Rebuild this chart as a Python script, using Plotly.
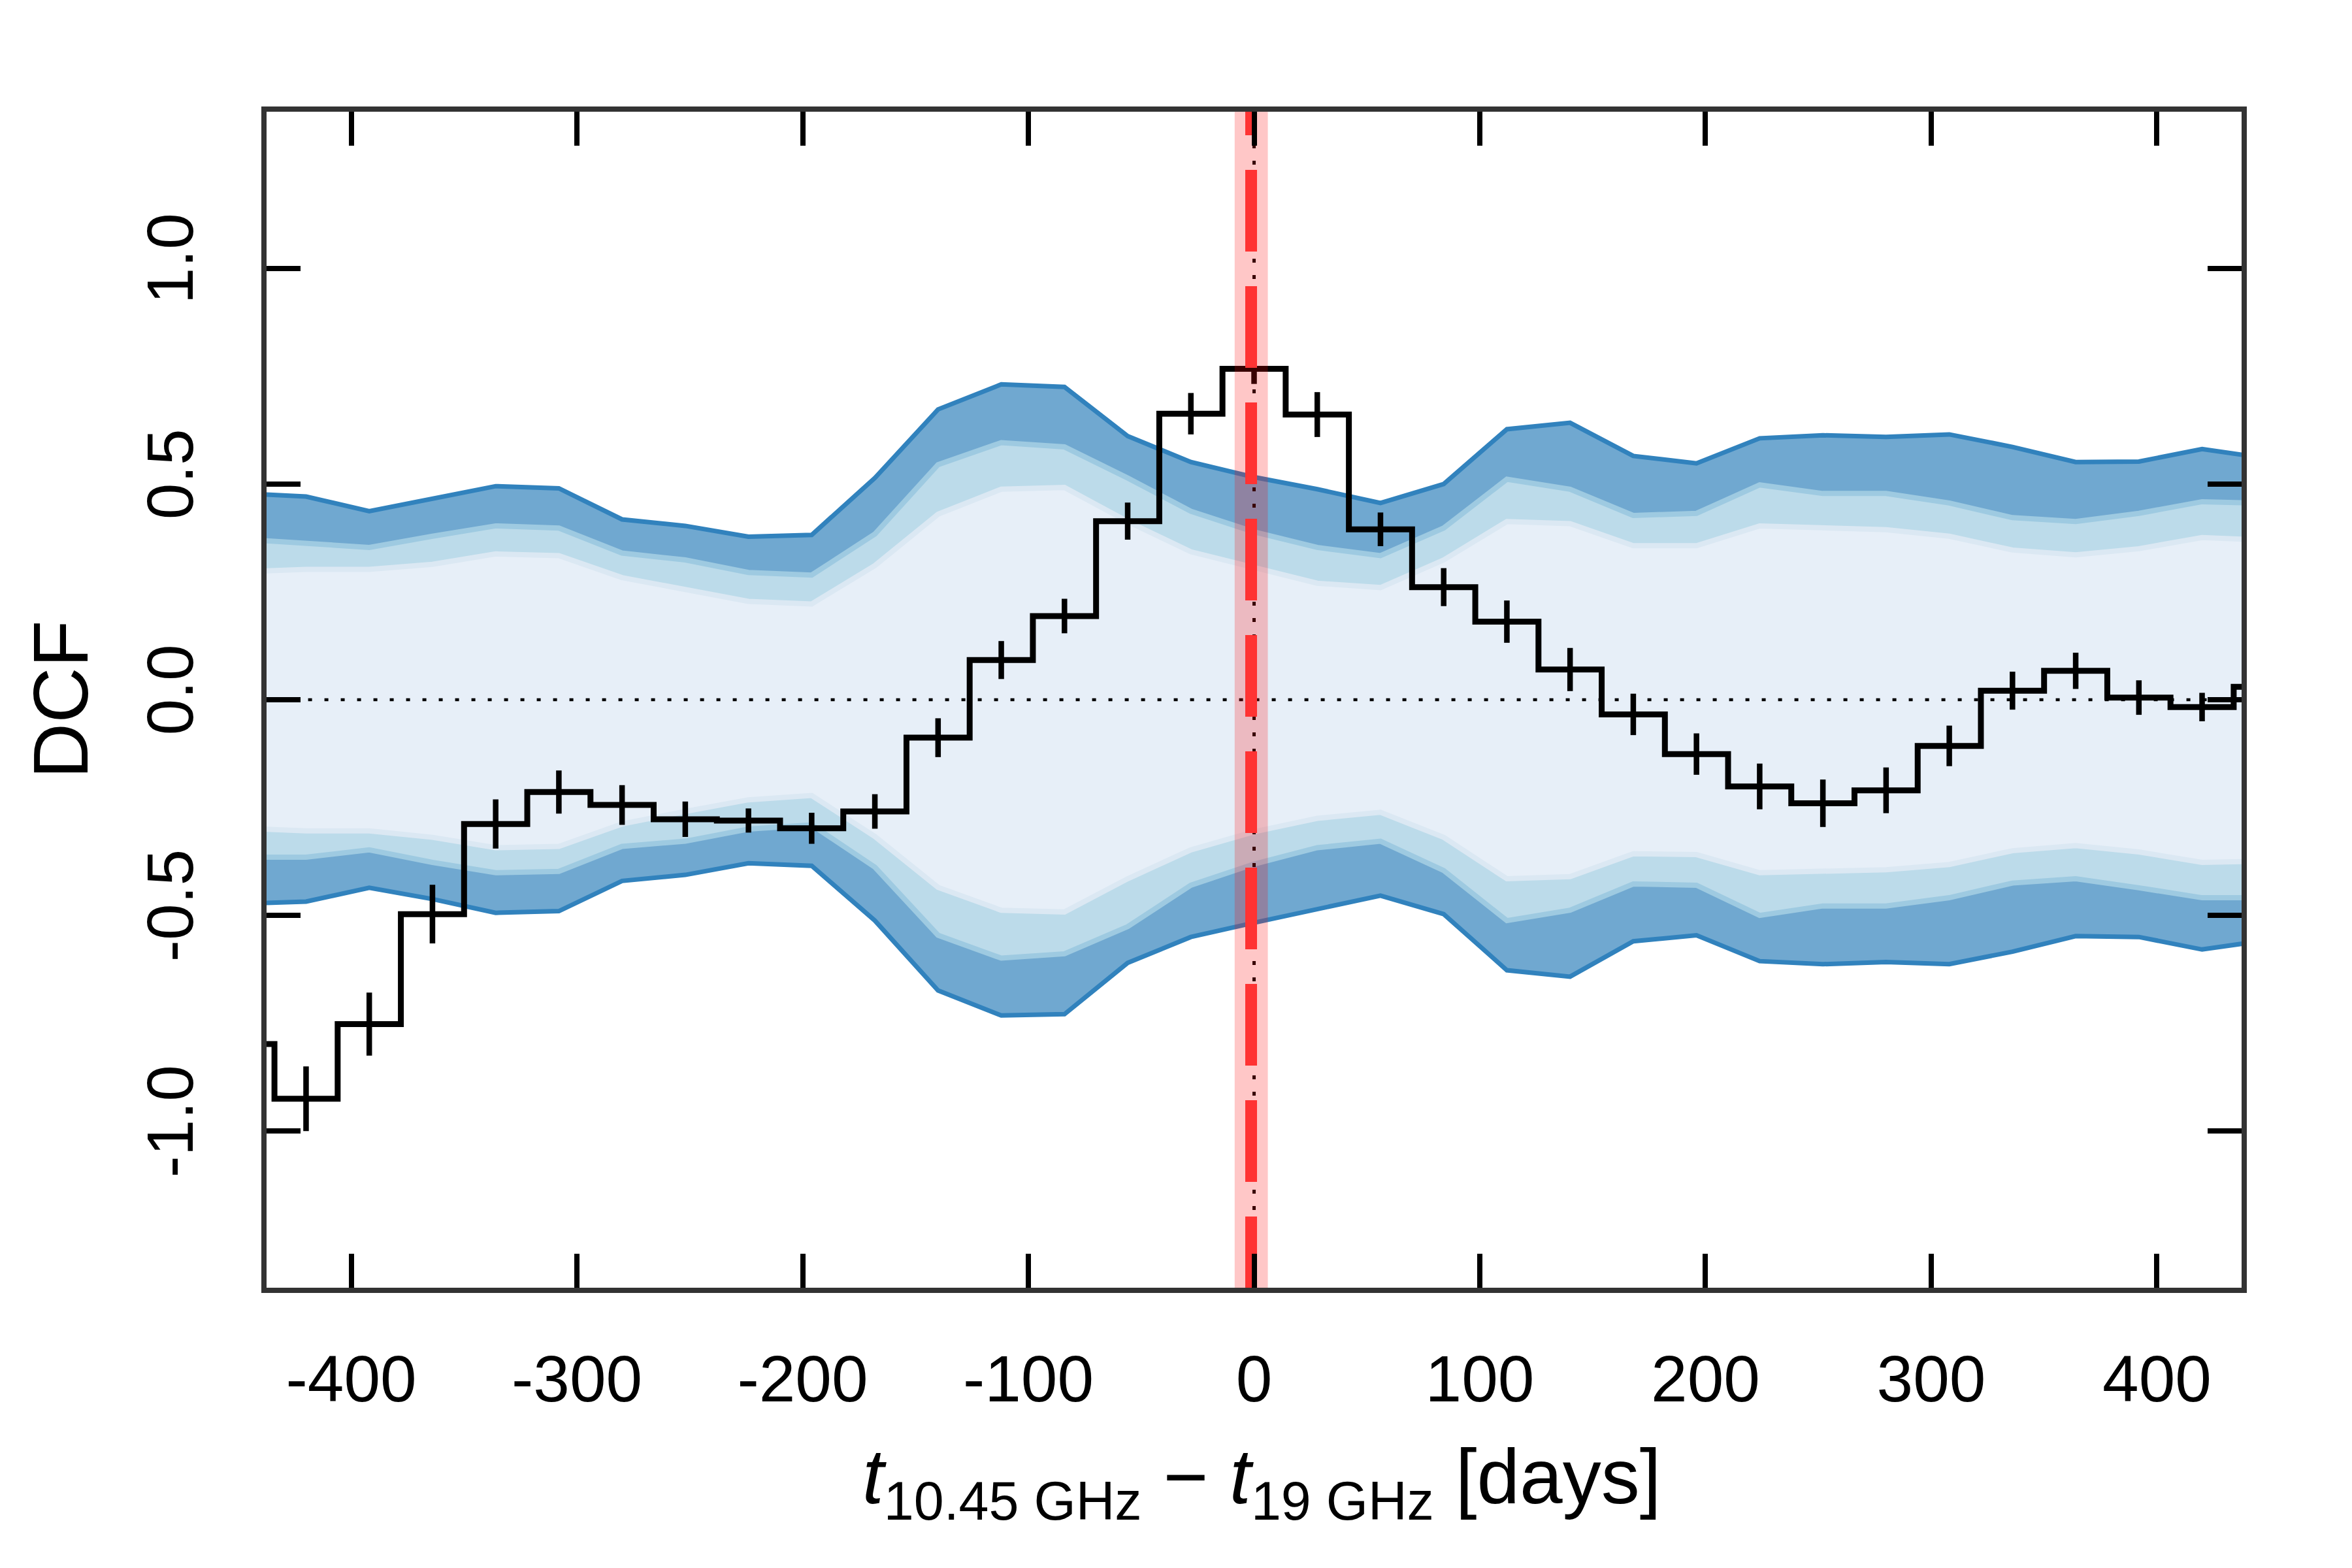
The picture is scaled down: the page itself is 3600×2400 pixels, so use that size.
import plotly.graph_objects as go

# ---------------- data ----------------
lags = [-448, -420, -392, -364, -336, -308, -280, -252, -224, -196, -168, -140,
        -112, -84, -56, -28, 0, 28, 56, 84, 112, 140, 168, 196, 224, 252, 280,
        308, 336, 364, 392, 420, 448]

dcf = [-0.798, -0.925, -0.752, -0.497, -0.288, -0.214, -0.244, -0.277, -0.280,
       -0.298, -0.259, -0.088, 0.092, 0.194, 0.414, 0.663, 0.767, 0.661, 0.395,
       0.261, 0.181, 0.070, -0.034, -0.126, -0.201, -0.240, -0.210, -0.107,
       0.021, 0.067, 0.005, -0.017, 0.030]

dcf_err = [0.070, 0.075, 0.073, 0.068, 0.057, 0.050, 0.046, 0.041, 0.028, 0.036,
           0.040, 0.045, 0.044, 0.040, 0.043, 0.048, 0.035, 0.052, 0.039, 0.044,
           0.049, 0.050, 0.048, 0.048, 0.053, 0.055, 0.053, 0.047, 0.044, 0.042,
           0.040, 0.033, 0.035]

upper_outer = [0.478, 0.471, 0.437, 0.466, 0.495, 0.490, 0.418, 0.403, 0.378, 0.382,
               0.514, 0.673, 0.731, 0.725, 0.611, 0.551, 0.516, 0.488, 0.456, 0.500,
               0.627, 0.642, 0.565, 0.548, 0.606, 0.613, 0.609, 0.615, 0.586, 0.551,
               0.552, 0.581, 0.560]
upper_mid = [0.372, 0.364, 0.353, 0.379, 0.403, 0.398, 0.340, 0.324, 0.295, 0.289,
             0.384, 0.545, 0.596, 0.586, 0.514, 0.437, 0.389, 0.353, 0.334, 0.398,
             0.511, 0.488, 0.427, 0.432, 0.498, 0.478, 0.478, 0.456, 0.422, 0.413,
             0.432, 0.459, 0.455]
upper_inner = [0.297, 0.302, 0.302, 0.314, 0.338, 0.334, 0.283, 0.254, 0.228, 0.222,
               0.311, 0.430, 0.488, 0.492, 0.413, 0.343, 0.307, 0.270, 0.260, 0.324,
               0.413, 0.408, 0.357, 0.357, 0.403, 0.398, 0.394, 0.379, 0.347, 0.336,
               0.350, 0.376, 0.370]
lower_inner = [-0.298, -0.304, -0.304, -0.319, -0.343, -0.340, -0.288, -0.259, -0.232,
               -0.222, -0.317, -0.435, -0.488, -0.492, -0.415, -0.348, -0.306, -0.275,
               -0.261, -0.319, -0.415, -0.410, -0.357, -0.359, -0.401, -0.398, -0.394,
               -0.382, -0.350, -0.338, -0.353, -0.377, -0.374]
lower_mid = [-0.365, -0.365, -0.348, -0.377, -0.401, -0.398, -0.340, -0.328, -0.300,
             -0.290, -0.388, -0.546, -0.599, -0.589, -0.526, -0.430, -0.381, -0.343,
             -0.328, -0.396, -0.512, -0.488, -0.427, -0.430, -0.500, -0.478, -0.478,
             -0.459, -0.425, -0.415, -0.436, -0.459, -0.459]
lower_outer = [-0.473, -0.468, -0.436, -0.462, -0.494, -0.490, -0.420, -0.406, -0.379,
               -0.385, -0.512, -0.674, -0.732, -0.729, -0.610, -0.550, -0.517, -0.485,
               -0.454, -0.497, -0.627, -0.642, -0.560, -0.546, -0.606, -0.613, -0.608,
               -0.613, -0.584, -0.548, -0.550, -0.579, -0.558]

lag_best = -1.3
lag_lo = -8.6
lag_hi = 6.1

x_tickvals = [-400, -300, -200, -100, 0, 100, 200, 300, 400]
x_ticktext = ["-400", "-300", "-200", "-100", "0", "100", "200", "300", "400"]
y_tickvals = [-1.0, -0.5, 0.0, 0.5, 1.0]
y_ticktext = ["-1.0", "-0.5", "0.0", "0.5", "1.0"]

x_range = [-437.5, 437.5]
y_range = [-1.363, 1.363]

# ---------------- figure ----------------
W, H = 3600, 2400
ML, MR, MT, MB = 400, 177, 163, 437
plot_w = W - ML - MR
plot_h = H - MT - MB
FONT = "Liberation Sans, Arial, Helvetica, sans-serif"

fig = go.Figure()

def band(upper, lower, fill, line, lw):
    fig.add_trace(go.Scatter(
        x=lags + lags[::-1], y=upper + lower[::-1],
        mode="lines", fill="toself", fillcolor=fill,
        line=dict(color=line, width=lw), hoverinfo="skip", showlegend=False))

band(upper_outer, lower_outer, "#70a8d0", "#3182bd", 7)
band(upper_mid, lower_mid, "#bcdbea", "#9ecae1", 8)
band(upper_inner, lower_inner, "#e7eff8", "#dbe8f3", 8)

big = 3.0
# horizontal zero line (dotted)
fig.add_trace(go.Scatter(x=[-big * 200, big * 200], y=[0, 0], mode="lines",
                         line=dict(color="black", width=4.5, dash="6px,19px"),
                         hoverinfo="skip", showlegend=False))
# vertical zero line (dotted)
fig.add_trace(go.Scatter(x=[0, 0], y=[-big, big], mode="lines",
                         line=dict(color="black", width=5, dash="6px,19px"),
                         hoverinfo="skip", showlegend=False))

# DCF step line
fig.add_trace(go.Scatter(x=lags, y=dcf, mode="lines", line_shape="hvh",
                         line=dict(color="black", width=9),
                         hoverinfo="skip", showlegend=False))
# error bars
fig.add_trace(go.Scatter(x=lags, y=dcf, mode="markers",
                         marker=dict(size=0.1, color="rgba(0,0,0,0)"),
                         error_y=dict(type="data", array=dcf_err, visible=True,
                                      color="black", thickness=8.5, width=0),
                         hoverinfo="skip", showlegend=False))

# lag uncertainty band
fig.add_trace(go.Scatter(x=[lag_lo, lag_hi, lag_hi, lag_lo, lag_lo],
                         y=[-big, -big, big, big, -big], mode="lines",
                         fill="toself", fillcolor="rgba(255,0,0,0.22)",
                         line=dict(width=0, color="rgba(0,0,0,0)"),
                         hoverinfo="skip", showlegend=False))
# best lag (dashed red)
px_per_unit = plot_h / (y_range[1] - y_range[0])
y_start = y_range[1] + 89 / px_per_unit
fig.add_trace(go.Scatter(x=[lag_best, lag_best], y=[y_start, -big], mode="lines",
                         line=dict(color="#ff3333", width=18, dash="125px,53px"),
                         hoverinfo="skip", showlegend=False))

axis_common = dict(
    showline=True, linecolor="#333333", linewidth=8, mirror="allticks",
    ticks="inside", ticklen=52, tickwidth=8, tickcolor="black",
    showgrid=False, zeroline=False,
    tickfont=dict(family=FONT, size=100, color="black"),
)

fig.update_xaxes(range=x_range, tickvals=x_tickvals, ticktext=x_ticktext,
                 ticklabelstandoff=46, **axis_common)
fig.update_yaxes(range=y_range, tickvals=y_tickvals, ticktext=y_ticktext,
                 tickangle=-90, ticklabelstandoff=65, **axis_common)

fig.add_annotation(
    text="DCF", xref="paper", yref="paper",
    x=(85 - ML) / plot_w, y=0.5, xanchor="center", yanchor="middle",
    textangle=-90, showarrow=False,
    font=dict(family=FONT, size=118, color="black"))

fig.add_annotation(
    text="<i>t</i><sub>10.45 GHz</sub> \u2212 <i>t</i><sub>19 GHz</sub> [days]",
    xref="paper", yref="paper",
    x=0.5 + 12 / plot_w, y=(H - MB - 2261) / plot_h, xanchor="center", yanchor="middle",
    showarrow=False,
    font=dict(family=FONT, size=118, color="black"))

fig.update_layout(
    width=W, height=H,
    margin=dict(l=ML, r=MR, t=MT, b=MB, pad=0),
    paper_bgcolor="white", plot_bgcolor="white",
    showlegend=False,
    font=dict(family=FONT, color="black"),
)

fig.write_html("out.html")
